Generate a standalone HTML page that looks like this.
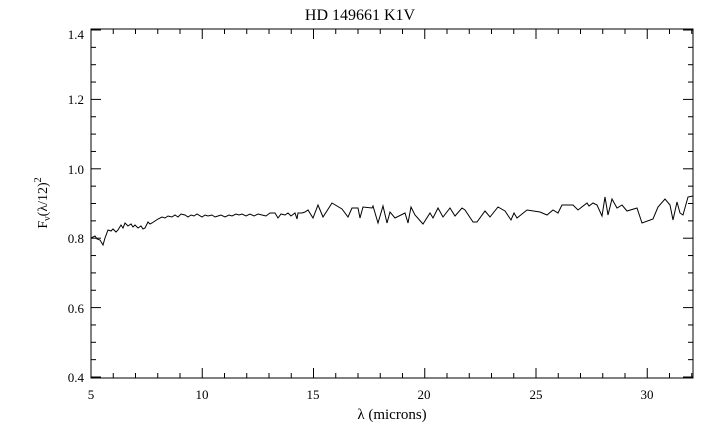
<!DOCTYPE html>
<html><head><meta charset="utf-8"><style>body{margin:0;background:#fff}svg{display:block}text{font-family:"Liberation Serif",serif;fill:#000}</style></head>
<body>
<svg width="720" height="439" viewBox="0 0 720 439" xmlns="http://www.w3.org/2000/svg">
<rect x="91" y="29" width="602" height="349" fill="none" stroke="#000" stroke-width="1"/>
<g id="t" stroke="#000" stroke-width="1"></g>
<text x="360" y="20" font-size="16" text-anchor="middle">HD 149661 K1V</text>
<g font-size="13" text-anchor="middle">
<text x="91" y="399">5</text><text x="202" y="399">10</text><text x="313" y="399">15</text><text x="424" y="399">20</text><text x="536" y="399">25</text><text x="647" y="399">30</text>
</g>
<g font-size="13" text-anchor="end">
<text x="84" y="382">0.4</text><text x="84" y="313">0.6</text><text x="84" y="243">0.8</text><text x="84" y="174">1.0</text><text x="84" y="104">1.2</text><text x="84" y="39">1.4</text>
</g>
<text x="392" y="419" font-size="15" text-anchor="middle">λ (microns)</text>
<text transform="translate(47,203) rotate(-90)" font-size="14" text-anchor="middle">F<tspan font-size="10" dy="3">ν</tspan><tspan dy="-3">(λ/12)</tspan><tspan font-size="10" dy="-6">2</tspan></text>
<polyline fill="none" stroke="#000" stroke-width="1" points="91,238 95,236 97,239 100,240 103,245 105,238 108,230 111,231 113,229 116,232 118,230 121,225 123,228 125,223 128,226 131,224 133,227 135,225 138,228 141,226 143,229 145,228 148,222 150,224 152,223 155,221 158,219 162,217 165,218 168,216 172,217 175,215 178,217 181,214 185,215 188,217 191,215 194,216 197,214 202,217 205,215 208,216 212,215 215,217 218,216 221,215 225,217 229,215 232,216 236,214 239,215 242,214 246,216 250,214 254,216 258,214 262,215 266,216 270,213 275,213 278,218 281,214 285,215 288,213 291,216 295,213 297,219 298,213 302,213 305,212 308,210 313,218 318,205 323,217 332,203 342,209 348,217 352,208 358,208 360,218 363,207 372,208 373,206 378,223 383,206 387,223 390,212 395,218 405,213 408,223 411,207 415,215 423,224 430,213 433,218 438,208 443,217 450,208 455,216 462,208 465,210 473,222 477,222 485,211 490,217 498,207 505,211 511,220 514,213 517,218 527,210 540,212 547,215 553,210 558,213 562,205 573,205 578,210 587,203 589,206 593,203 597,205 602,216 605,197 608,215 612,199 617,208 622,205 627,211 637,208 642,223 653,219 658,207 665,199 670,205 673,220 677,202 680,213 683,215 688,197 693,196"/>
</svg>
<script>
var g=document.getElementById('t'),s='';
for(var i=0;i<=27;i++){var x=91+i*22.25,L=(i%5==0)?10:5;
s+='<line x1="'+x+'" y1="378" x2="'+x+'" y2="'+(378-L)+'"/><line x1="'+x+'" y1="29" x2="'+x+'" y2="'+(29+L)+'"/>';}
for(var j=0;j<=20;j++){var y=377-j*17.35,L=(j%4==0)?10:5;
s+='<line x1="91" y1="'+y+'" x2="'+(91+L)+'" y2="'+y+'"/><line x1="693" y1="'+y+'" x2="'+(693-L)+'" y2="'+y+'"/>';}
g.innerHTML=s;
</script>
</body></html>
